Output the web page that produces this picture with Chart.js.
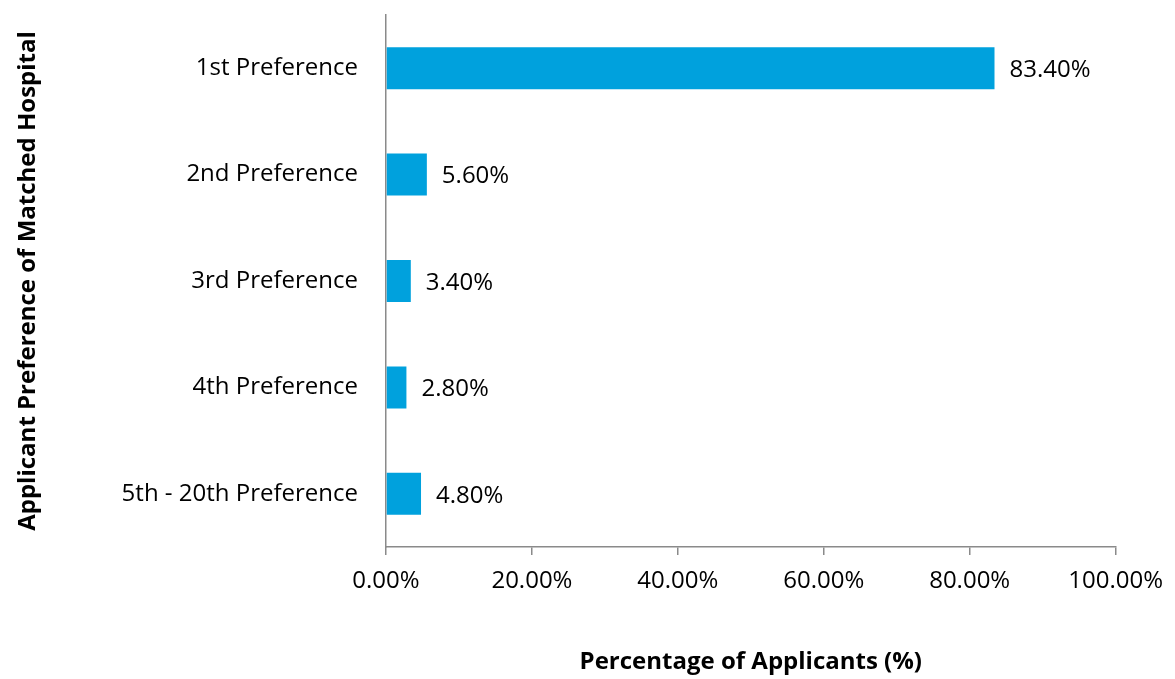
<!DOCTYPE html>
<html>
<head>
<meta charset="utf-8">
<script src="https://cdn.jsdelivr.net/npm/chart.js@4"></script>
<style>
  html, body { margin: 0; padding: 0; background: #fff; }
  #wrap { width: 1175px; height: 679px; }
</style>
</head>
<body>
<div id="wrap"><canvas id="prefChart" width="1175" height="679"></canvas></div>
<script>
// Chart data
const categories = ['1st Preference', '2nd Preference', '3rd Preference', '4th Preference', '5th - 20th Preference'];
const percentages = [83.4, 5.6, 3.4, 2.8, 4.8];
const xTicks = [0, 20, 40, 60, 80, 100];

const fontFamily = "'Open Sans', sans-serif";
const fontSize = 24;
const axisGray = '#8a8a8a';

// Draw value labels to the right of each bar
const valueLabels = {
    id: 'valueLabels',
    afterDatasetsDraw(chart) {
        const ctx = chart.ctx;
        const meta = chart.getDatasetMeta(0);
        ctx.save();
        ctx.font = fontSize + 'px ' + fontFamily;
        ctx.fillStyle = '#000';
        ctx.textBaseline = 'middle';
        ctx.textAlign = 'left';
        meta.data.forEach((bar, i) => {
            ctx.fillText(percentages[i].toFixed(2) + '%', bar.x + 15, bar.y + 2);
        });
        ctx.restore();
    }
};

new Chart(document.getElementById('prefChart').getContext('2d'), {
    type: 'bar',
    data: {
        labels: categories,
        datasets: [{
            data: percentages,
            backgroundColor: '#00a1dd',
            barPercentage: 0.79,
            categoryPercentage: 0.5
        }]
    },
    options: {
        indexAxis: 'y',
        responsive: false,
        animation: false,
        layout: { padding: { left: 0, top: 15, right: 58, bottom: 0 } },
        plugins: {
            legend: { display: false },
            tooltip: { enabled: false }
        },
        scales: {
            x: {
                min: 0,
                max: 100,
                afterBuildTicks: axis => { axis.ticks = xTicks.map(v => ({ value: v })); },
                afterFit: axis => { axis.height = 132; },
                grid: { drawOnChartArea: false, drawTicks: true, tickLength: 8, color: axisGray, lineWidth: 1.5 },
                border: { color: axisGray, width: 1.5 },
                ticks: {
                    padding: 12,
                    color: '#000',
                    font: { family: fontFamily, size: fontSize },
                    callback: v => v.toFixed(2) + '%'
                },
                title: {
                    display: true,
                    text: 'Percentage of Applicants (%)',
                    color: '#000',
                    font: { family: fontFamily, size: fontSize, weight: 'bold' },
                    padding: { top: 20, bottom: 2 }
                }
            },
            y: {
                afterFit: axis => { axis.width = 386; },
                // invisible tick marks give the gap between labels and axis
                grid: { drawOnChartArea: false, drawTicks: true, tickLength: 28, tickColor: 'rgba(0,0,0,0)' },
                border: { color: axisGray, width: 1.5 },
                ticks: {
                    padding: 0,
                    color: '#000',
                    font: { family: fontFamily, size: fontSize }
                },
                title: {
                    display: true,
                    text: 'Applicant Preference of Matched Hospital',
                    color: '#000',
                    font: { family: fontFamily, size: fontSize, weight: 'bold' },
                    padding: { top: 14, bottom: 0 }
                }
            }
        }
    },
    plugins: [valueLabels]
});
</script>
</body>
</html>
